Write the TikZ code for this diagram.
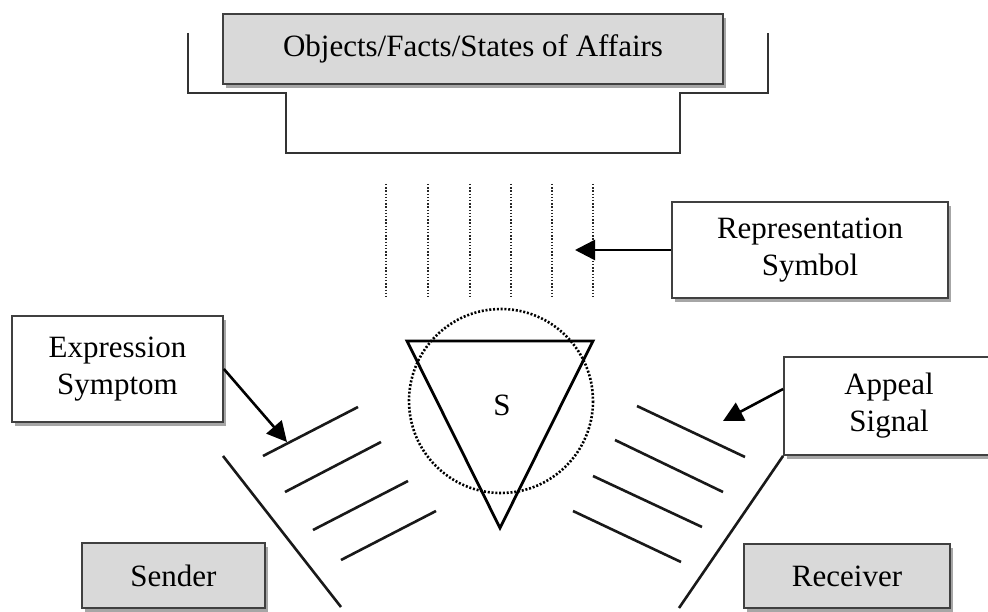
\documentclass[tikz,border=0pt]{standalone}
\usepackage{fontspec}
\setmainfont{Liberation Serif}
\usetikzlibrary{arrows.meta,shadows}
\begin{document}
\begin{tikzpicture}[x=1pt,y=-1pt,
  lbl/.style={draw=black!75,line width=1.8pt,align=center,
    font=\fontsize{31}{37}\selectfont,inner sep=0pt,
    drop shadow={shadow xshift=3pt,shadow yshift=-4pt,fill=black!35,opacity=1}},
  graybox/.style={lbl,fill=black!15},
  whitebox/.style={lbl,fill=white},
  ray/.style={line width=2.6pt,black!90},
  pointer/.style={line width=2.6pt,-{Triangle[length=20pt,width=20pt]}},
  dotline/.style={line width=1.5pt,dash pattern=on 1.5pt off 1.7pt,black!85},
  lbltext/.style={font=\fontsize{31}{37}\selectfont}]
\clip (0,0) rectangle (988,612);
\fill[white] (0,0) rectangle (988,612);

% bracket under the top box
\draw[line width=2pt,black!80] (188,33) -- (188,93) -- (286,93) -- (286,153)
  -- (680,153) -- (680,93) -- (768,93) -- (768,33);

% top box
\node[graybox,minimum width=500pt,minimum height=70pt] (objects) at (473,49)
  {Objects/Facts/States of Affairs};

% dotted lines
\foreach \x in {386,428,470,511,552,593}
  \draw[dotline] (\x,184) -- (\x,298);

% representation
\node[whitebox,minimum width=276pt,minimum height=96pt] (rep) at (810,250)
  {Representation\\Symbol};
\coordinate (reptip) at (575,250);
\draw[pointer] (rep.west) -- (reptip);

% sign
\draw[line width=2.6pt,dash pattern=on 2pt off 1.8pt] (501,401) circle[radius=92];
\draw[line width=2.8pt,line join=miter] (407,341) -- (593,341) -- (500,528) -- cycle;
\node[lbltext] (s) at (502,405) {S};

% expression
\node[whitebox,minimum width=211pt,minimum height=106pt] (expr) at (117.5,369)
  {Expression\\Symptom};
\coordinate (exprtip) at (287,442);
\draw[pointer] (expr.east) -- (exprtip);
\draw[ray] (263,456) -- (358,407);
\draw[ray] (285,492) -- (381,442);
\draw[ray] (313,530) -- (408,481);
\draw[ray] (341,560) -- (436,511);
\draw[ray] (223,456) -- (341,607);

% appeal
\node[whitebox,minimum width=210pt,minimum height=98pt] (appeal) at (889,406)
  {Appeal\\Signal};
\coordinate (appealtip) at (723,421);
\draw[pointer] ([yshift=17pt]appeal.west) -- (appealtip);
\draw[ray] (637,406) -- (745,457);
\draw[ray] (615,440) -- (723,492);
\draw[ray] (593,476) -- (702,527);
\draw[ray] (573,511) -- (681,562);
\coordinate (recvfoot) at (679,608);
\draw[ray] (appeal.south west) -- (recvfoot);

% sender / receiver
\node[graybox,minimum width=183pt,minimum height=65pt] (sender) at (173.5,575.5) {Sender};
\node[graybox,minimum width=206pt,minimum height=64pt] (receiver) at (847,576) {Receiver};
\end{tikzpicture}
\end{document}
